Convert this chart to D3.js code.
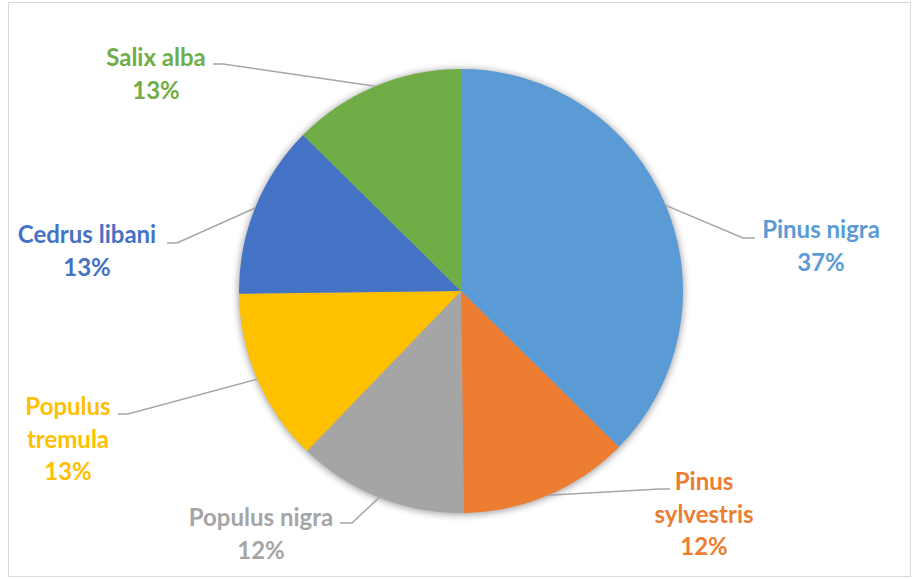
<!DOCTYPE html>
<html>
<head>
<meta charset="utf-8">
<script src="https://cdn.jsdelivr.net/npm/d3@7/dist/d3.min.js"></script>
<style>
  html, body { margin: 0; padding: 0; background: #fff; }
  svg { display: block; }
  .lbl { font-family: Lato, "Open Sans", sans-serif; font-weight: 700; }
</style>
</head>
<body>
<svg id="chart" width="913" height="579"></svg>
<script>
// Species share of planted trees (%)
const species = ["Pinus nigra", "Pinus sylvestris", "Populus nigra", "Populus tremula", "Cedrus libani", "Salix alba"];
const shares  = [37.4, 12.4, 12.4, 12.6, 12.6, 12.6];
// Label text, broken into lines
const labelLines = [["Pinus nigra"], ["Pinus", "sylvestris"], ["Populus nigra"], ["Populus", "tremula"], ["Cedrus libani"], ["Salix alba"]];
const colors  = ["#5B9BD5", "#ED7D31", "#A5A5A5", "#FFC000", "#4472C4", "#70AD47"];

// Label placement: text centre x, first baseline y, leader elbow and end
const labelLayout = [
  { tx: 821, ty: 238, elbow: [743, 238], end: 755 },
  { tx: 704, ty: 490, elbow: [660, 489], end: 670 },
  { tx: 261, ty: 526, elbow: [352, 523], end: 340 },
  { tx: 68,  ty: 415, elbow: [128, 414], end: 118 },
  { tx: 87,  ty: 243, elbow: [177, 243], end: 167 },
  { tx: 156, ty: 66,  elbow: [223, 64],  end: 213 }
];

const W = 913, H = 579;
const cx = 461, cy = 291, R = 222;
const lineGap = 32.5;

const svg = d3.select("#chart");

// chart frame
svg.append("rect")
  .attr("x", 8.5).attr("y", 2.5)
  .attr("width", 902).attr("height", 574)
  .attr("fill", "#fff").attr("stroke", "#D9D9D9").attr("stroke-width", 1);

// soft shadow behind the pie
const defs = svg.append("defs");
const f = defs.append("filter").attr("id", "pieShadow")
  .attr("x", "-20%").attr("y", "-20%").attr("width", "140%").attr("height", "140%");
f.append("feGaussianBlur").attr("stdDeviation", 3.5);

const g = svg.append("g").attr("transform", `translate(${cx},${cy})`);

g.append("circle")
  .attr("r", R + 1).attr("cy", 1)
  .attr("fill", "#000").attr("opacity", 0.35)
  .attr("filter", "url(#pieShadow)");

const pie = d3.pie().sort(null).value(d => d)(shares);
const arc = d3.arc().innerRadius(0).outerRadius(R);

g.selectAll("path.slice")
  .data(pie)
  .join("path")
  .attr("class", "slice")
  .attr("d", arc)
  .attr("fill", (d, i) => colors[i]);

// leader lines from the slice rim to each label
const rim = d3.arc().innerRadius(R).outerRadius(R);
pie.forEach((d, i) => {
  const [px, py] = rim.centroid(d);
  const L = labelLayout[i];
  svg.append("polyline")
    .attr("points", [[cx + px, cy + py], L.elbow, [L.end, L.elbow[1]]].map(p => p.join(",")).join(" "))
    .attr("fill", "none")
    .attr("stroke", "#A6A6A6")
    .attr("stroke-width", 1.5);
});

// labels: name lines + rounded percentage
pie.forEach((d, i) => {
  const L = labelLayout[i];
  const lines = labelLines[i].concat([Math.round(shares[i]) + "%"]);
  const t = svg.append("text")
    .attr("class", "lbl")
    .attr("text-anchor", "middle")
    .attr("font-size", 24)
    .attr("fill", colors[i]);
  lines.forEach((s, k) => {
    t.append("tspan").attr("x", L.tx).attr("y", L.ty + k * lineGap).text(s);
  });
});
</script>
</body>
</html>
